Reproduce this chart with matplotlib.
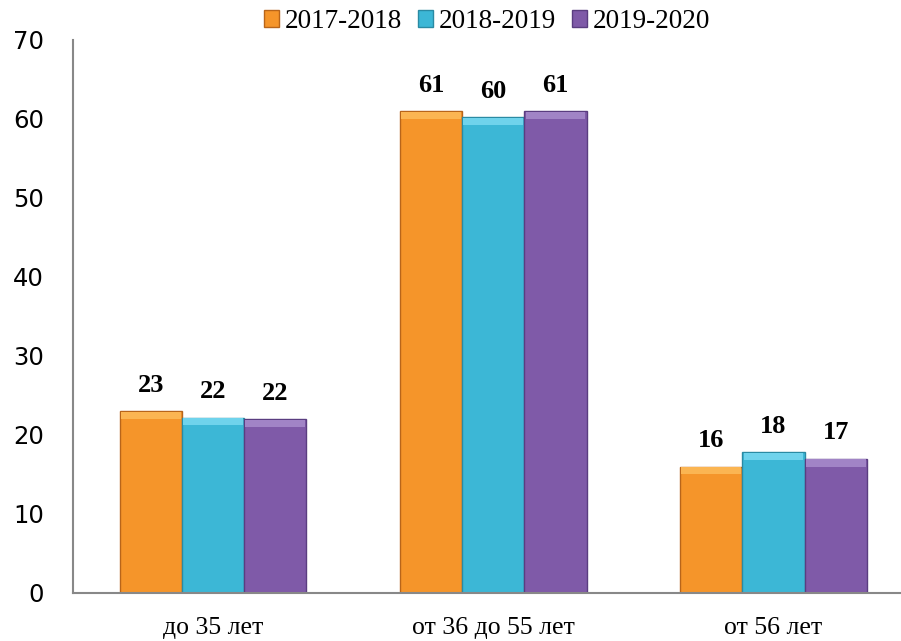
import numpy as np
import matplotlib.pyplot as plt

categories = ["до 35 лет", "от 36 до 55 лет", "от 56 лет"]
series = ["2017-2018", "2018-2019", "2019-2020"]
values = {
    "2017-2018": [23, 61, 16],
    "2018-2019": [22.2, 60.2, 17.8],
    "2019-2020": [22, 61, 17],
}
labels = {
    "2017-2018": [23, 61, 16],
    "2018-2019": [22, 60, 18],
    "2019-2020": [22, 61, 17],
}
colors = ["#F5952A", "#3CB7D6", "#7F5AA8"]
lights = ["#FBB552", "#6FD3EC", "#A184C6"]
edges = ["#B8651A", "#2A8AA3", "#5A3D80"]

fig = plt.figure(figsize=(9.01, 6.41), dpi=100)
ax = fig.add_axes([0.081, 0.075, 0.919, 0.8627])

x = np.arange(len(categories))
w = 0.222
for i, s in enumerate(series):
    pos = x + (i - 1) * w
    bars = ax.bar(pos, values[s], w, color=colors[i], edgecolor=edges[i],
                  linewidth=1.0, label=s, zorder=2)
    # light top bevel
    v = np.array(values[s])
    ax.bar(pos, np.full_like(v, 0.9, dtype=float), w * 0.96, bottom=v - 1.0,
           color=lights[i], linewidth=0, zorder=3)
    for b, lab in zip(bars, labels[s]):
        ax.text(b.get_x() + b.get_width() / 2, b.get_height() + 1.8, str(lab),
                ha="center", va="bottom", fontsize=19, fontweight="bold",
                family="Liberation Serif")

ax.set_xlim(-0.50, 2.455)
ax.set_ylim(0, 70)
ax.set_yticks(range(0, 71, 10))
ax.set_xticks(x)
ax.set_xticklabels(categories, family="Liberation Serif", fontsize=18.5)
ax.tick_params(axis="y", labelsize=17.5, length=0, pad=21)
ax.tick_params(axis="x", length=0, pad=17)
for sp in ["top", "right"]:
    ax.spines[sp].set_visible(False)
ax.spines["left"].set_color("#888888")
ax.spines["bottom"].set_color("#888888")
ax.spines["left"].set_linewidth(1.5)
ax.spines["bottom"].set_linewidth(1.5)

ax.legend(loc="center", bbox_to_anchor=(0.5, 1.033), ncol=3, frameon=False,
          prop={"family": "Liberation Serif", "size": 19.5}, handlelength=0.55,
          handleheight=0.55, handletextpad=0.2, columnspacing=0.6)

fig.savefig("out.png", dpi=100)
